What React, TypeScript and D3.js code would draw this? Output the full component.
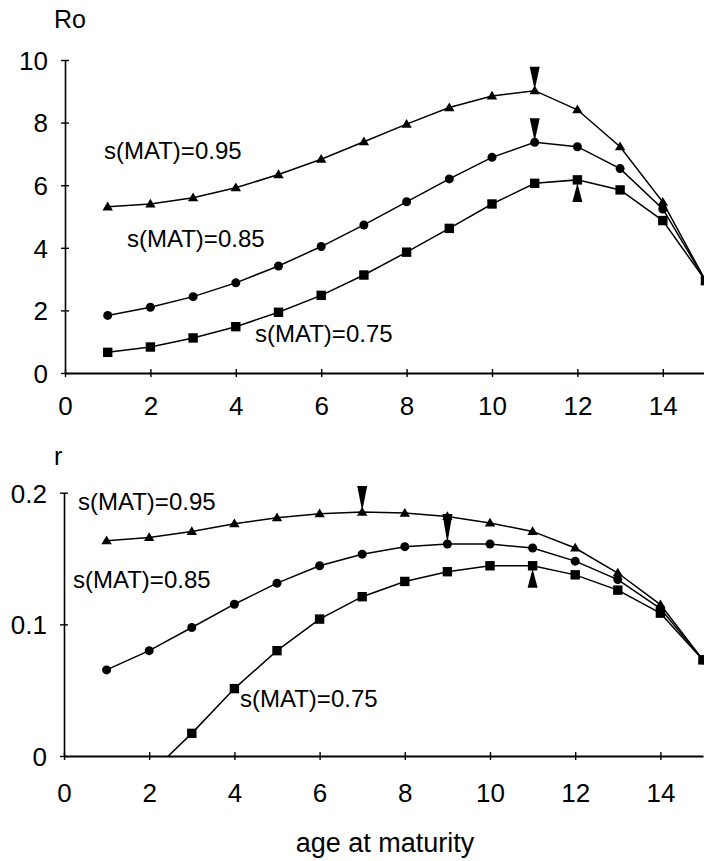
import { useEffect, useRef } from 'react'
import * as d3 from 'd3'

// age at maturity
const ages = [1, 2, 3, 4, 5, 6, 7, 8, 9, 10, 11, 12, 13, 14, 15]

// Ro (net reproductive rate)
const ro95 = [5.31, 5.4, 5.6, 5.92, 6.34, 6.83, 7.39, 7.95, 8.48, 8.85, 9.02, 8.41, 7.23, 5.46, 2.95]
const ro85 = [1.84, 2.1, 2.44, 2.88, 3.42, 4.04, 4.73, 5.47, 6.2, 6.89, 7.37, 7.23, 6.53, 5.24, 2.95]
const ro75 = [0.66, 0.83, 1.12, 1.48, 1.94, 2.48, 3.13, 3.86, 4.62, 5.4, 6.06, 6.17, 5.85, 4.87, 2.95]

// r (intrinsic rate of increase)
const r95 = [0.1635, 0.166, 0.1706, 0.1764, 0.181, 0.184, 0.1853, 0.1845, 0.182, 0.177, 0.1706, 0.158, 0.139, 0.115, 0.073]
const r85 = [0.0654, 0.08, 0.0976, 0.1153, 0.1313, 0.1445, 0.1533, 0.159, 0.161, 0.161, 0.158, 0.148, 0.134, 0.112, 0.073]
const r75 = [null, -0.014, 0.0172, 0.0512, 0.08, 0.104, 0.121, 0.1326, 0.14, 0.1445, 0.1445, 0.1376, 0.126, 0.1085, 0.073]

const seriesLabels = ['s(MAT)=0.95', 's(MAT)=0.85', 's(MAT)=0.75']
const xTicks = [0, 2, 4, 6, 8, 10, 12, 14]
const roTicks = [0, 2, 4, 6, 8, 10]
const rTicks = [0, 0.1, 0.2]

// optimum markers: [series index, age, direction]
const roOptima: [number, number, string][] = [[0, 11, 'down'], [1, 11, 'down'], [2, 12, 'up']]
const rOptima: [number, number, string][] = [[0, 7, 'down'], [1, 9, 'down'], [2, 11, 'up']]

const FONT = '"Liberation Sans", Arial, sans-serif'

export default function App() {
  const ref = useRef<SVGSVGElement>(null)

  useEffect(() => {
    if (!ref.current) return
    const svg = d3.select(ref.current)
    svg.selectAll('*').remove()

    const shapes = ['triangle', 'circle', 'square']

    function drawMarker(g: any, shape: string, cx: number, cy: number) {
      if (shape === 'circle') {
        g.append('circle').attr('cx', cx).attr('cy', cy).attr('r', 4.5).attr('fill', '#000')
      } else if (shape === 'square') {
        g.append('rect').attr('x', cx - 4.7).attr('y', cy - 4.7).attr('width', 9.4).attr('height', 9.4).attr('fill', '#000')
      } else {
        g.append('path')
          .attr('d', `M${cx},${cy - 5.2} L${cx + 5.2},${cy + 3.6} L${cx - 5.2},${cy + 3.6} Z`)
          .attr('fill', '#000')
      }
    }

    function panel(opts: {
      id: string
      series: (number | null)[][]
      yDomain: [number, number]
      xRange: [number, number]
      yRange: [number, number]
      yTicks: number[]
      yFormat: (v: number) => string
      yTitle: string
      yTitlePos: [number, number]
      xLabelY: number
      labels: [number, number][]
      optima: [number, number, string][]
      arrowLen: number[]
    }) {
      const x = d3.scaleLinear().domain([0, 15]).range(opts.xRange)
      const y = d3.scaleLinear().domain(opts.yDomain).range(opts.yRange)
      const g = svg.append('g')

      g.append('clipPath')
        .attr('id', opts.id)
        .append('rect')
        .attr('x', opts.xRange[0])
        .attr('y', opts.yRange[1] - 40)
        .attr('width', opts.xRange[1] - opts.xRange[0] + 10)
        .attr('height', opts.yRange[0] - opts.yRange[1] + 40)

      // Y axis
      const yAxis = g
        .append('g')
        .attr('transform', `translate(${opts.xRange[0]},0)`)
        .call(d3.axisLeft(y).tickValues(opts.yTicks).tickSizeOuter(0).tickSizeInner(4).tickFormat((d: any) => opts.yFormat(d)))
      yAxis.select('.domain').attr('stroke-width', 1.6)
      yAxis.selectAll('.tick line').attr('x1', -4).attr('x2', 4).attr('stroke-width', 1.4)
      yAxis.selectAll('.tick text')
        .attr('x', -17)
        .attr('dy', '0.36em')
        .style('font-family', FONT)
        .style('font-size', '26px')
        .attr('fill', '#000')

      // X axis
      const xAxis = g
        .append('g')
        .attr('transform', `translate(0,${opts.yRange[0]})`)
        .call(d3.axisBottom(x).tickValues(xTicks).tickSizeOuter(0).tickSizeInner(4))
      xAxis.select('.domain').attr('stroke-width', 1.9)
      xAxis.selectAll('.tick line').attr('y1', -4).attr('y2', 4).attr('stroke-width', 1.4)
      xAxis.selectAll('.tick text')
        .attr('y', opts.xLabelY)
        .attr('dy', 0)
        .style('font-family', FONT)
        .style('font-size', '26px')
        .attr('fill', '#000')

      // Y title
      g.append('text')
        .attr('x', opts.yTitlePos[0])
        .attr('y', opts.yTitlePos[1])
        .style('font-family', FONT)
        .style('font-size', '25px')
        .text(opts.yTitle)

      const plot = g.append('g').attr('clip-path', `url(#${opts.id})`)

      const line = d3
        .line<number | null>()
        .defined((d) => d !== null)
        .x((_, i) => x(ages[i]))
        .y((d) => y(d as number))

      opts.series.forEach((vals, si) => {
        plot.append('path').attr('d', line(vals)).attr('fill', 'none').attr('stroke', '#000').attr('stroke-width', 1.5)
        vals.forEach((v, i) => {
          if (v === null) return
          drawMarker(plot, shapes[si], x(ages[i]), y(v))
        })
      })

      // optimum arrows
      opts.optima.forEach(([si, age, dir], k) => {
        const v = opts.series[si][ages.indexOf(age)] as number
        const cx = x(age)
        const cy = y(v)
        const len = opts.arrowLen[k]
        const d =
          dir === 'down'
            ? `M${cx - 5},${cy - len} L${cx + 5},${cy - len} L${cx},${cy - 1} Z`
            : `M${cx - 5},${cy + len} L${cx + 5},${cy + len} L${cx},${cy + 3} Z`
        g.append('path').attr('d', d).attr('fill', '#000')
      })

      // series labels
      opts.labels.forEach(([lx, ly], i) => {
        g.append('text')
          .attr('x', lx)
          .attr('y', ly)
          .style('font-family', FONT)
          .style('font-size', '24px')
          .text(seriesLabels[i])
      })
    }

    panel({
      id: 'clipRo',
      series: [ro95, ro85, ro75],
      yDomain: [0, 10],
      xRange: [65, 705.5],
      yRange: [373, 60],
      yTicks: roTicks,
      yFormat: (v) => String(v),
      yTitle: 'Ro',
      yTitlePos: [54, 28],
      xLabelY: 42,
      labels: [[104, 159], [127, 247], [255, 342]],
      optima: roOptima,
      arrowLen: [24, 24, 22],
    })

    panel({
      id: 'clipR',
      series: [r95, r85, r75],
      yDomain: [0, 0.2],
      xRange: [64, 703],
      yRange: [756, 492.7],
      yTicks: rTicks,
      yFormat: (v) => (v === 0 ? '0' : d3.format('.1f')(v)),
      yTitle: 'r',
      yTitlePos: [54, 465],
      xLabelY: 46,
      labels: [[78, 510], [73, 588], [240, 707]],
      optima: rOptima,
      arrowLen: [26, 30, 22],
    })

    svg
      .append('text')
      .attr('x', 385)
      .attr('y', 852)
      .attr('text-anchor', 'middle')
      .style('font-family', FONT)
      .style('font-size', '27px')
      .text('age at maturity')
  }, [])

  return (
    <svg
      ref={ref}
      width={704}
      height={861}
      style={{ position: 'absolute', left: 0, top: 0, background: '#fff' }}
    />
  )
}
